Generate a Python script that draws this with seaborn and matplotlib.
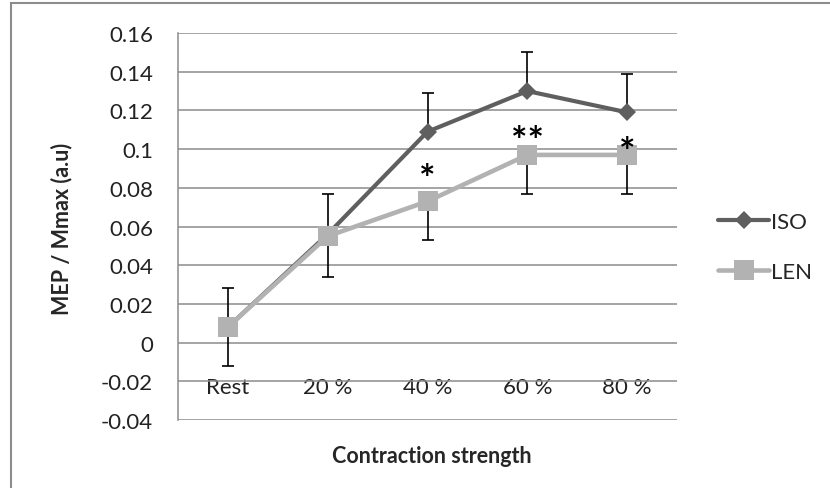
import numpy as np
import pandas as pd
import seaborn as sns
import matplotlib.pyplot as plt
from matplotlib.patches import Rectangle

# data
categories = ['Rest', '20%', '40%', '60%', '80%']
tick_labels = ['Rest', '20 %', '40 %', '60 %', '80 %']
iso = [0.008, 0.056, 0.109, 0.130, 0.119]
iso_err_up = [0.020, 0.021, 0.020, 0.020, 0.020]
len_vals = [0.008, 0.055, 0.073, 0.097, 0.097]
len_err_down = [0.020, 0.021, 0.020, 0.020, 0.020]
stars = ['', '', '*', '**', '*']
star_y = [0, 0, 0.0845, 0.1040, 0.0980]
y_ticks = [-0.04, -0.02, 0, 0.02, 0.04, 0.06, 0.08, 0.10, 0.12, 0.14, 0.16]
y_tick_labels = ['-0.04', '-0.02', '0', '0.02', '0.04', '0.06', '0.08', '0.1',
                 '0.12', '0.14', '0.16']

ISO_COLOR = '#5f5f5f'
LEN_COLOR = '#b2b2b2'
GRID = '#8c8c8c'

sns.set_style('white')
plt.rcParams['font.family'] = ['Lato', 'DejaVu Sans']

df = pd.DataFrame({
    'strength': categories * 2,
    'value': iso + len_vals,
    'series': ['ISO'] * 5 + ['LEN'] * 5,
})

fig = plt.figure(figsize=(8.3, 4.89), dpi=100)
ax = fig.add_axes([178 / 830, 1 - 421 / 489, 499 / 830, 387 / 489])

# error bars first so markers sit on top
ax.errorbar(categories, iso, yerr=[np.zeros(5), iso_err_up], fmt='none',
            ecolor='black', elinewidth=1.2, capsize=4.5, capthick=1.2, zorder=2)
ax.errorbar(categories, len_vals, yerr=[len_err_down, np.zeros(5)], fmt='none',
            ecolor='black', elinewidth=1.2, capsize=4.5, capthick=1.2, zorder=2)

sns.lineplot(data=df[df.series == 'ISO'], x='strength', y='value', sort=False,
             color=ISO_COLOR, marker='D', markersize=9, markeredgewidth=0,
             linewidth=3, ax=ax, zorder=3, label='ISO')
sns.lineplot(data=df[df.series == 'LEN'], x='strength', y='value', sort=False,
             color=LEN_COLOR, marker='s', markersize=14, markeredgewidth=0,
             linewidth=3.3, ax=ax, zorder=4, label='LEN')

for cat, s, y in zip(categories, stars, star_y):
    if s:
        ax.text(cat, y, s, ha='center', va='center', fontsize=28,
                fontweight='bold', color='black', zorder=5)

ax.set_xlim(-0.5, 4.5)
ax.set_ylim(-0.04, 0.16)
ax.set_yticks(y_ticks)
ax.set_yticklabels(y_tick_labels)
ax.set_xticks(range(len(categories)))
ax.set_xticklabels(tick_labels)
ax.tick_params(axis='y', length=0, pad=18, labelsize=16, labelcolor='#222222')
ax.tick_params(axis='x', length=0, pad=-31, labelsize=16, labelcolor='#222222')

ax.yaxis.grid(True, color=GRID, linewidth=1.1)
ax.xaxis.grid(False)
for side in ['top', 'right', 'bottom']:
    ax.spines[side].set_visible(False)
ax.spines['left'].set_color(GRID)
ax.spines['left'].set_linewidth(1.1)

ax.set_xlabel('Contraction strength', fontsize=15.5, fontweight='bold')
ax.set_ylabel('MEP / Mmax (a.u)', fontsize=15.5, fontweight='bold')
ax.xaxis.set_label_coords(0.509, -0.065)
ax.yaxis.set_label_coords(-0.212, 0.496)

ax.legend(loc='center left', bbox_to_anchor=(1.042, 0.447), frameon=False,
          fontsize=16, handlelength=2.3, handletextpad=0.1, labelspacing=1.35)

# outer chart frame (cut off at right and bottom in the reference)
fig.patches.append(Rectangle((11 / 830, -0.1), 1.2, 1.1 - 4 / 489, fill=False,
                             edgecolor=GRID, linewidth=1.5,
                             transform=fig.transFigure, figure=fig))

fig.savefig('out.png', dpi=100)
